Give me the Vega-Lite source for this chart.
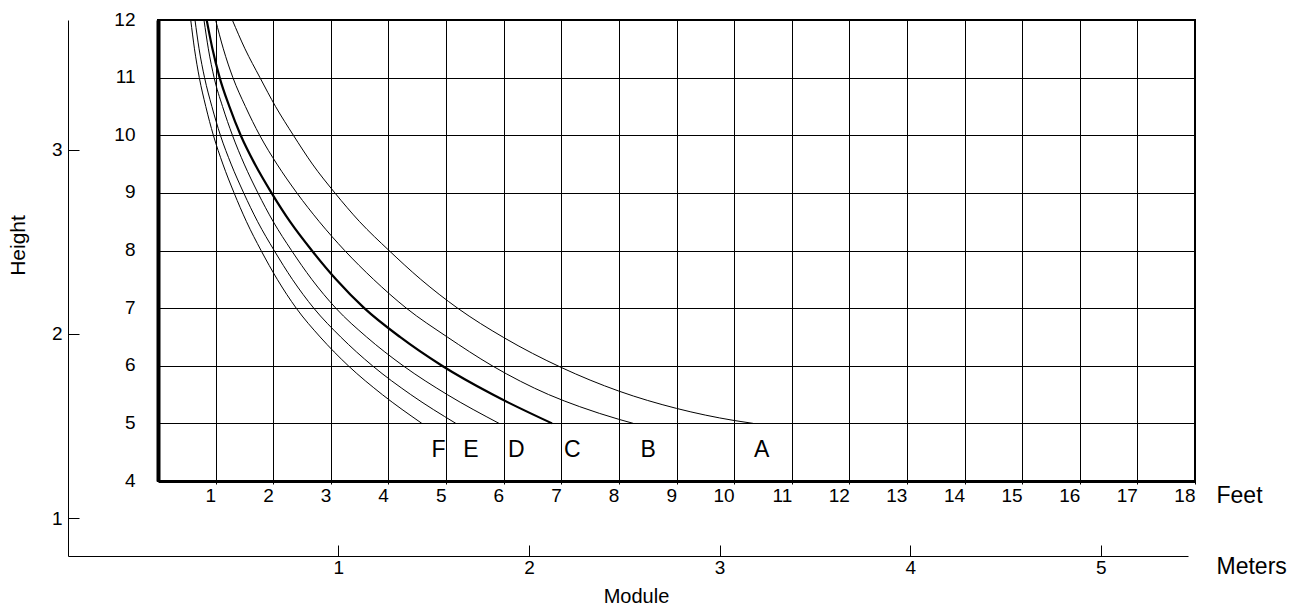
{
  "$schema": "https://vega.github.io/schema/vega-lite/v6.json",
  "autosize": "none",
  "width": 1037,
  "height": 461,
  "padding": {"left": 158, "top": 20, "right": 104, "bottom": 127},
  "background": "white",
  "config": {
    "font": "Liberation Sans",
    "view": {"stroke": "black", "strokeWidth": 2},
    "axis": {
      "labelFont": "Liberation Sans",
      "titleFont": "Liberation Sans",
      "labelColor": "black",
      "titleColor": "black",
      "titleFontWeight": "normal",
      "domainColor": "black",
      "tickColor": "black",
      "gridColor": "black",
      "gridOpacity": 1,
      "labelFlush": false,
      "labelOverlap": false
    }
  },
  "title": {"text": "Module", "orient": "bottom", "anchor": "middle", "fontSize": 20, "fontWeight": "normal", "font": "Liberation Sans", "color": "black", "offset": 9, "dx": -40},
  "layer": [
    {
      "layer": [
        {
          "data": {"values": [
            {"curve": "F", "ft": 0.568, "h": 12}, {"curve": "F", "ft": 0.633, "h": 11.5}, {"curve": "F", "ft": 0.717, "h": 11}, {"curve": "F", "ft": 0.829, "h": 10.5}, {"curve": "F", "ft": 0.961, "h": 10}, {"curve": "F", "ft": 1.126, "h": 9.5}, {"curve": "F", "ft": 1.320, "h": 9}, {"curve": "F", "ft": 1.536, "h": 8.5}, {"curve": "F", "ft": 1.789, "h": 8}, {"curve": "F", "ft": 2.07, "h": 7.5}, {"curve": "F", "ft": 2.399, "h": 7}, {"curve": "F", "ft": 2.814, "h": 6.5}, {"curve": "F", "ft": 3.303, "h": 6}, {"curve": "F", "ft": 3.893, "h": 5.5}, {"curve": "F", "ft": 4.58, "h": 5},
            {"curve": "E", "ft": 0.642, "h": 12}, {"curve": "E", "ft": 0.713, "h": 11.5}, {"curve": "E", "ft": 0.808, "h": 11}, {"curve": "E", "ft": 0.935, "h": 10.5}, {"curve": "E", "ft": 1.083, "h": 10}, {"curve": "E", "ft": 1.269, "h": 9.5}, {"curve": "E", "ft": 1.487, "h": 9}, {"curve": "E", "ft": 1.730, "h": 8.5}, {"curve": "E", "ft": 2.017, "h": 8}, {"curve": "E", "ft": 2.332, "h": 7.5}, {"curve": "E", "ft": 2.703, "h": 7}, {"curve": "E", "ft": 3.171, "h": 6.5}, {"curve": "E", "ft": 3.722, "h": 6}, {"curve": "E", "ft": 4.387, "h": 5.5}, {"curve": "E", "ft": 5.17, "h": 5},
            {"curve": "D", "ft": 0.798, "h": 12}, {"curve": "D", "ft": 0.874, "h": 11.5}, {"curve": "D", "ft": 0.974, "h": 11}, {"curve": "D", "ft": 1.120, "h": 10.5}, {"curve": "D", "ft": 1.292, "h": 10}, {"curve": "D", "ft": 1.496, "h": 9.5}, {"curve": "D", "ft": 1.734, "h": 9}, {"curve": "D", "ft": 2.001, "h": 8.5}, {"curve": "D", "ft": 2.318, "h": 8}, {"curve": "D", "ft": 2.669, "h": 7.5}, {"curve": "D", "ft": 3.086, "h": 7}, {"curve": "D", "ft": 3.620, "h": 6.5}, {"curve": "D", "ft": 4.255, "h": 6}, {"curve": "D", "ft": 5.020, "h": 5.5}, {"curve": "D", "ft": 5.92, "h": 5},
            {"curve": "C", "ft": 0.845, "h": 12}, {"curve": "C", "ft": 0.945, "h": 11.5}, {"curve": "C", "ft": 1.07, "h": 11}, {"curve": "C", "ft": 1.238, "h": 10.5}, {"curve": "C", "ft": 1.435, "h": 10}, {"curve": "C", "ft": 1.681, "h": 9.5}, {"curve": "C", "ft": 1.97, "h": 9}, {"curve": "C", "ft": 2.292, "h": 8.5}, {"curve": "C", "ft": 2.67, "h": 8}, {"curve": "C", "ft": 3.089, "h": 7.5}, {"curve": "C", "ft": 3.58, "h": 7}, {"curve": "C", "ft": 4.20, "h": 6.5}, {"curve": "C", "ft": 4.93, "h": 6}, {"curve": "C", "ft": 5.81, "h": 5.5}, {"curve": "C", "ft": 6.84, "h": 5},
            {"curve": "B", "ft": 1.0, "h": 12}, {"curve": "B", "ft": 1.134, "h": 11.5}, {"curve": "B", "ft": 1.30, "h": 11}, {"curve": "B", "ft": 1.517, "h": 10.5}, {"curve": "B", "ft": 1.765, "h": 10}, {"curve": "B", "ft": 2.064, "h": 9.5}, {"curve": "B", "ft": 2.41, "h": 9}, {"curve": "B", "ft": 2.80, "h": 8.5}, {"curve": "B", "ft": 3.24, "h": 8}, {"curve": "B", "ft": 3.74, "h": 7.5}, {"curve": "B", "ft": 4.31, "h": 7}, {"curve": "B", "ft": 5.02, "h": 6.5}, {"curve": "B", "ft": 5.80, "h": 6}, {"curve": "B", "ft": 6.78, "h": 5.5}, {"curve": "B", "ft": 7.32, "h": 5.29}, {"curve": "B", "ft": 8.0, "h": 5.07}, {"curve": "B", "ft": 8.25, "h": 5},
            {"curve": "A", "ft": 1.29, "h": 12}, {"curve": "A", "ft": 1.51, "h": 11.5}, {"curve": "A", "ft": 1.77, "h": 11}, {"curve": "A", "ft": 2.04, "h": 10.5}, {"curve": "A", "ft": 2.35, "h": 10}, {"curve": "A", "ft": 2.68, "h": 9.5}, {"curve": "A", "ft": 3.07, "h": 9}, {"curve": "A", "ft": 3.50, "h": 8.5}, {"curve": "A", "ft": 4.01, "h": 8}, {"curve": "A", "ft": 4.56, "h": 7.5}, {"curve": "A", "ft": 5.2, "h": 7}, {"curve": "A", "ft": 6.0, "h": 6.49}, {"curve": "A", "ft": 7.0, "h": 5.97}, {"curve": "A", "ft": 8.0, "h": 5.56}, {"curve": "A", "ft": 9.0, "h": 5.26}, {"curve": "A", "ft": 10.0, "h": 5.05}, {"curve": "A", "ft": 10.33, "h": 5}
          ]},
          "mark": {"type": "line", "interpolate": "monotone", "color": "black"},
          "encoding": {
            "x": {
              "field": "ft", "type": "quantitative",
              "scale": {"domain": [0, 18], "nice": false, "zero": false},
              "axis": {
                "values": [1, 2, 3, 4, 5, 6, 7, 8, 9, 10, 11, 12, 13, 14, 15, 16, 17, 18],
                "format": "d",
                "title": "Feet", "titleX": 1058, "titleY": 21, "titleAlign": "left", "titleAnchor": "start", "titleBaseline": "alphabetic", "titleAngle": 0, "titleFontSize": 23,
                "labelFontSize": 19, "labelAlign": "right", "labelBaseline": "top", "labelPadding": 2,
                "tickSize": 3, "grid": true, "gridWidth": 1, "domainWidth": 3
              }
            },
            "y": {
              "field": "h", "type": "quantitative",
              "scale": {"domain": [4, 12], "nice": false, "zero": false},
              "axis": {
                "values": [4, 5, 6, 7, 8, 9, 10, 11, 12],
                "format": "d",
                "title": null,
                "labelFontSize": 19, "labelAlign": "right", "labelBaseline": "middle", "labelPadding": 23, "labelOffset": -1,
                "ticks": false, "grid": true, "gridWidth": 1, "domainWidth": 4
              }
            },
            "detail": {"field": "curve"},
            "strokeWidth": {"condition": {"test": "datum.curve === 'C'", "value": 2.2}, "value": 1}
          }
        },
        {
          "data": {"values": [
            {"curve": "F", "ft": 4.87, "h": 4.53},
            {"curve": "E", "ft": 5.43, "h": 4.53},
            {"curve": "D", "ft": 6.22, "h": 4.53},
            {"curve": "C", "ft": 7.19, "h": 4.53},
            {"curve": "B", "ft": 8.51, "h": 4.53},
            {"curve": "A", "ft": 10.48, "h": 4.53}
          ]},
          "mark": {"type": "text", "fontSize": 23, "font": "Liberation Sans", "color": "black", "align": "center", "baseline": "middle"},
          "encoding": {
            "x": {"field": "ft", "type": "quantitative"},
            "y": {"field": "h", "type": "quantitative"},
            "text": {"field": "curve"}
          }
        }
      ]
    },
    {
      "data": {"values": [{"m": 1, "mh": 1}, {"m": 5, "mh": 3}]},
      "mark": {"type": "point", "opacity": 0},
      "encoding": {
        "x": {
          "field": "m", "type": "quantitative",
          "scale": {"domain": [-0.4187, 5.4575], "range": [-90, 1030], "nice": false, "zero": false},
          "axis": {
            "orient": "bottom", "offset": 75, "values": [1, 2, 3, 4, 5], "format": "d",
            "title": "Meters", "titleX": 1058, "titleY": 17, "titleAlign": "left", "titleAnchor": "start", "titleBaseline": "alphabetic", "titleAngle": 0, "titleFontSize": 23,
            "labelFontSize": 19, "labelBaseline": "top", "labelAlign": "center", "tickSize": -11, "labelPadding": 13,
            "grid": false, "domainWidth": 1
          }
        },
        "y": {
          "field": "mh", "type": "quantitative",
          "scale": {"domain": [0.7945, 3.705], "range": [536, 0], "nice": false, "zero": false},
          "axis": {
            "orient": "left", "offset": 90, "values": [1, 2, 3], "format": "d",
            "title": "Height", "titleX": -50, "titleY": 225, "titleAngle": -90, "titleAlign": "center", "titleAnchor": "middle", "titleBaseline": "middle", "titleFontSize": 21,
            "labelFontSize": 19, "labelAlign": "right", "labelBaseline": "middle", "tickSize": -11, "labelPadding": 17,
            "grid": false, "domainWidth": 1
          }
        }
      }
    }
  ],
  "resolve": {"scale": {"x": "independent", "y": "independent"}, "axis": {"x": "independent", "y": "independent"}}
}
